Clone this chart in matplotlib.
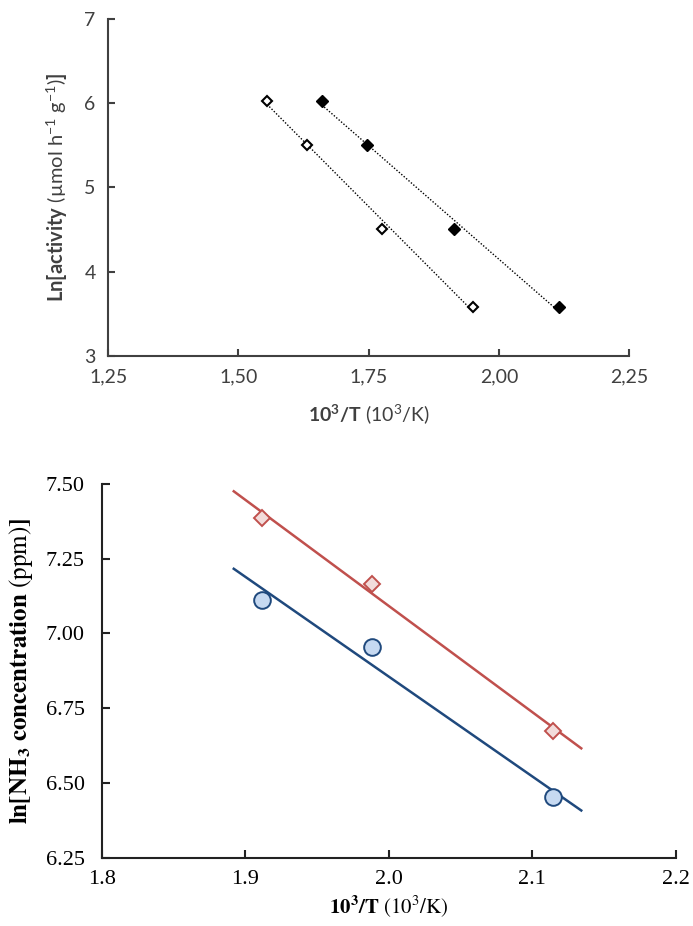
import numpy as np
import matplotlib
matplotlib.use('Agg')
import matplotlib.pyplot as plt

# top panel data (ln activity vs 1000/T)
x_open = [1.555, 1.632, 1.776, 1.951]
y_open = [6.03, 5.51, 4.51, 3.58]
x_fill = [1.660, 1.746, 1.914, 2.116]
y_fill = [6.03, 5.51, 4.51, 3.58]
top_xticks = [1.25, 1.50, 1.75, 2.00, 2.25]
top_xlabels = ['1,25', '1,50', '1,75', '2,00', '2,25']
top_yticks = [3, 4, 5, 6, 7]

# bottom panel data (ln NH3 concentration vs 1000/T)
x_nh3 = [1.912, 1.988, 2.114]
y_red = [7.385, 7.166, 6.675]
y_blue = [7.112, 6.956, 6.452]
bot_xticks = [1.8, 1.9, 2.0, 2.1, 2.2]
bot_yticks = [6.25, 6.50, 6.75, 7.00, 7.25, 7.50]
forecast = 0.02  # trendline extended both ways

plt.rcParams['mathtext.fontset'] = 'custom'
plt.rcParams['mathtext.rm'] = 'Lato'
plt.rcParams['mathtext.bf'] = 'Lato:bold'
plt.rcParams['mathtext.it'] = 'Lato:italic'

fig = plt.figure(figsize=(6.93, 9.26), dpi=100)

# ---------- top ----------
gray = '#404040'
ax1 = fig.add_axes([0.156, 0.6156, 0.752, 0.3639])
for xs, ys in [(x_open, y_open), (x_fill, y_fill)]:
    k, b = np.polyfit(xs, ys, 1)
    xx = np.array([min(xs), max(xs)])
    ax1.plot(xx, k * xx + b, color='black', lw=1.0, ls=(0, (1, 1.3)), zorder=2)
ax1.plot(x_open, y_open, 'D', ms=5.5, mfc='white', mec='black', mew=1.5, zorder=3)
ax1.plot(x_fill, y_fill, 'D', ms=6.3, mfc='black', mec='black', mew=1.0, zorder=3)
ax1.set_xlim(1.25, 2.25)
ax1.set_ylim(3, 7)
ax1.set_xticks(top_xticks)
ax1.set_xticklabels(top_xlabels)
ax1.set_yticks(top_yticks)
for s in ['top', 'right']:
    ax1.spines[s].set_visible(False)
for s in ['left', 'bottom']:
    ax1.spines[s].set_color(gray)
    ax1.spines[s].set_linewidth(1.5)
ax1.tick_params(direction='in', length=5, width=1.5, color=gray, labelcolor=gray,
                labelsize=14, labelfontfamily='Lato', pad=9)
ax1.set_xlabel(r'$\mathbf{10^3/T}\ \mathrm{(10^3/K)}$', fontsize=14, color=gray, labelpad=12)
ax1.set_ylabel(r'$\mathbf{Ln[activity}\ \mathrm{(µmol\ h^{-1}\ g^{-1})}\mathbf{]}$',
               fontsize=14.5, color=gray, labelpad=10)

# ---------- bottom ----------
red = '#C0504D'
blue = '#1F497D'
ax2 = fig.add_axes([0.1467, 0.0738, 0.8288, 0.4035])
for ys, c in [(y_red, red), (y_blue, blue)]:
    k, b = np.polyfit(x_nh3, ys, 1)
    xx = np.array([min(x_nh3) - forecast, max(x_nh3) + forecast])
    ax2.plot(xx, k * xx + b, color=c, lw=1.8, zorder=2)
ax2.plot(x_nh3, y_red, 'D', ms=8.3, mfc='#F2DCDB', mec=red, mew=1.4, zorder=3)
ax2.plot(x_nh3, y_blue, 'o', ms=12, mfc='#C6D9F1', mec=blue, mew=1.4, zorder=3)
ax2.set_xlim(1.8, 2.2)
ax2.set_ylim(6.25, 7.50)
ax2.set_xticks(bot_xticks)
ax2.set_xticklabels([f'{v:.1f}' for v in bot_xticks])
ax2.set_yticks(bot_yticks)
ax2.set_yticklabels([f'{v:.2f}' for v in bot_yticks])
for s in ['top', 'right']:
    ax2.spines[s].set_visible(False)
for s in ['left', 'bottom']:
    ax2.spines[s].set_color('#222222')
    ax2.spines[s].set_linewidth(1.5)
ax2.tick_params(direction='in', length=6, width=1.5, color='#222222', labelcolor='black',
                labelsize=16, labelfontfamily='Liberation Serif')
ax2.tick_params(axis='y', pad=12)
ax2.tick_params(axis='x', pad=9)
ax2.set_xlabel(r'$\mathbf{10^3/T}\ \mathrm{(10^3/K)}$', fontsize=15, math_fontfamily='stix', labelpad=3)
ax2.set_ylabel(r'$\mathbf{ln[NH_3\ concentration}\ \mathrm{(ppm)}\mathbf{]}$',
               fontsize=18, math_fontfamily='stix', labelpad=8)

fig.savefig('out.png', dpi=100)
